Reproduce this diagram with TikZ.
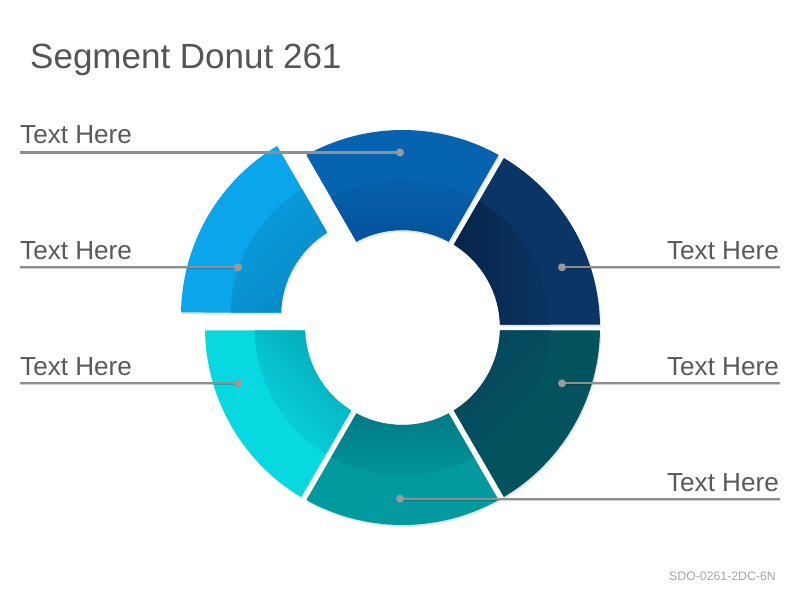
\documentclass[tikz,border=0pt]{standalone}
\usepackage{fontspec}
\setmainfont{Liberation Sans}
\definecolor{titlec}{HTML}{555555}
\definecolor{lbltext}{HTML}{595959}
\definecolor{footc}{HTML}{A6A6A6}
\definecolor{lead}{HTML}{8E8E8E}
\definecolor{dotc}{HTML}{9A9A9A}
\definecolor{cTop}{HTML}{0563B0}
\definecolor{cTopA}{HTML}{0561AD}
\definecolor{cTopB}{HTML}{04529B}
\definecolor{cRT}{HTML}{0A3566}
\definecolor{cRTA}{HTML}{062548}
\definecolor{cRTB}{HTML}{0A3464}
\definecolor{cRB}{HTML}{03535F}
\definecolor{cRBA}{HTML}{04465E}
\definecolor{cRBB}{HTML}{03545F}
\definecolor{cBot}{HTML}{029A9E}
\definecolor{cBotA}{HTML}{007B87}
\definecolor{cBotB}{HTML}{02979B}
\definecolor{cLB}{HTML}{08D8E0}
\definecolor{cLBA}{HTML}{05A9BB}
\definecolor{cLBB}{HTML}{08D6DF}
\definecolor{cLT}{HTML}{0AA5EB}
\definecolor{cLTA}{HTML}{0A9EE0}
\definecolor{cLTB}{HTML}{0789C6}
% annular sector with half gap of 3 units: a1 a2 r R
\newcommand{\annseg}[4]{({#1+asin(3/#4)}:#4) arc[start angle={#1+asin(3/#4)}, end angle={#2-asin(3/#4)}, radius=#4] -- ({#2-asin(3/#3)}:#3) arc[start angle={#2-asin(3/#3)}, end angle={#1+asin(3/#3)}, radius=#3] -- cycle}
\begin{document}
\begin{tikzpicture}[x=1pt,y=1pt,
  leader/.style={line width=2.3pt, draw=lead},
  leadershadow/.style={line width=2.3pt, draw=black, opacity=0.18},
  dotnode/.style={circle, fill=dotc, inner sep=0pt, minimum size=8pt},
  lbl/.style={font=\fontsize{26.1}{31}\selectfont, text=lbltext, inner sep=0pt},
  segshadow/.style={fill=black, opacity=0.10}]
\useasboundingbox (0,0) rectangle (800,600);
\fill[white] (0,0) rectangle (800,600);

\node[anchor=base west, inner sep=0pt, text=titlec, font=\fontsize{35}{42}\selectfont] (title) at (30,531.7) {Segment Donut 261};

% donut
\begin{scope}[shift={(402.5,272.5)}]
  % shadows
  \fill[segshadow, shift={(1,-2)}] \annseg{60}{120}{97.5}{197.5};
  \fill[segshadow, shift={(1,-2)}] \annseg{0}{60}{97.5}{197.5};
  \fill[segshadow, shift={(1,-2)}] \annseg{-60}{0}{97.5}{197.5};
  \fill[segshadow, shift={(1,-2)}] \annseg{-120}{-60}{97.5}{197.5};
  \fill[segshadow, shift={(1,-2)}] \annseg{180}{240}{97.5}{197.5};
  \fill[segshadow, shift={(-23,10)}] \annseg{120}{180}{97.5}{197.5};
  % top
  \fill[cTop] \annseg{60}{120}{97.5}{197.5};
  \shade[left color=cTopA, right color=cTopB, shading angle=0] \annseg{60}{120}{97.5}{148};
  % right top
  \fill[cRT] \annseg{0}{60}{97.5}{197.5};
  \shade[left color=cRTA, right color=cRTB, shading angle=90] \annseg{0}{60}{97.5}{148};
  % right bottom
  \fill[cRB] \annseg{-60}{0}{97.5}{197.5};
  \shade[left color=cRBA, right color=cRBB, shading angle=45] \annseg{-60}{0}{97.5}{148};
  % bottom
  \fill[cBot] \annseg{-120}{-60}{97.5}{197.5};
  \shade[left color=cBotA, right color=cBotB, shading angle=0] \annseg{-120}{-60}{97.5}{148};
  % left bottom
  \fill[cLB] \annseg{180}{240}{97.5}{197.5};
  \shade[left color=cLBA, right color=cLBB, shading angle=-45] \annseg{180}{240}{97.5}{148};
  % left top (exploded)
  \begin{scope}[shift={(-24,12)}]
    \fill[cLT] \annseg{120}{180}{97.5}{197.5};
    \shade[left color=cLTA, right color=cLTB, shading angle=45] \annseg{120}{180}{97.5}{148};
  \end{scope}
\end{scope}

% leaders
\coordinate (s1) at (20,447.5);   \coordinate (p1) at (400,447.5);
\coordinate (s2) at (20,332.7);   \coordinate (p2) at (238,332.7);
\coordinate (s3) at (20,216.7);   \coordinate (p3) at (238,216.7);
\coordinate (s4) at (780,332.7);  \coordinate (p4) at (562,332.7);
\coordinate (s5) at (780,216.7);  \coordinate (p5) at (562,216.7);
\coordinate (s6) at (780,101.3);  \coordinate (p6) at (400,101.3);
\foreach \i in {1,...,6}{
  \draw[leadershadow] ([yshift=-0.8pt]s\i) -- ([yshift=-0.8pt]p\i);
  \draw[leader] (s\i) -- (p\i);
  \node[dotnode] (d\i) at (p\i) {};
}

% labels
\node[lbl, anchor=base west] (t1) at (20,456) {Text Here};
\node[lbl, anchor=base west] (t2) at (20,340.2) {Text Here};
\node[lbl, anchor=base west] (t3) at (20,224.2) {Text Here};
\node[lbl, anchor=base east] (t4) at (779,340.2) {Text Here};
\node[lbl, anchor=base east] (t5) at (779,224.2) {Text Here};
\node[lbl, anchor=base east] (t6) at (779,109) {Text Here};

\node[anchor=base east, inner sep=0pt, text=footc, font=\fontsize{12.3}{15}\selectfont] (foot) at (776,20) {SDO-0261-2DC-6N};
\end{tikzpicture}
\end{document}
